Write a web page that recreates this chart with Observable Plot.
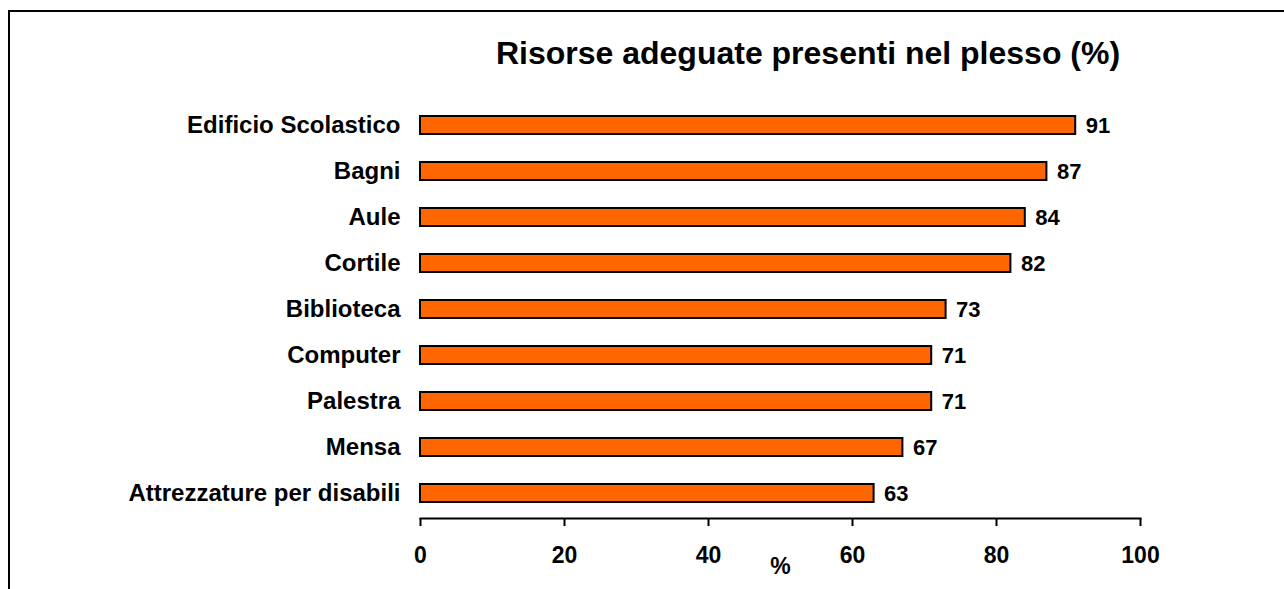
<!DOCTYPE html>
<html>
<head>
<meta charset="utf-8">
<script src="https://cdn.jsdelivr.net/npm/d3@7"></script>
<script src="https://cdn.jsdelivr.net/npm/@observablehq/plot@0.6"></script>
<style>
  html, body { margin: 0; padding: 0; background: white; }
  #wrap { position: relative; width: 1284px; height: 589px; overflow: hidden; background: white; }
  #border { position: absolute; left: 8px; top: 10px; width: 2000px; height: 2000px;
            border-left: 2.5px solid black; border-top: 2.5px solid black; box-sizing: border-box; pointer-events: none; }
  #title { position: absolute; left: 408px; width: 800px; top: 37px; text-align: center;
           font-family: "Liberation Sans", Arial, sans-serif; font-weight: bold; font-size: 32px; line-height: 32px; color: black; }
  #chart { position: absolute; left: 0; top: 80px; }
</style>
</head>
<body>
<div id="wrap">
  <div id="border"></div>
  <div id="title">Risorse adeguate presenti nel plesso (%)</div>
  <div id="chart"></div>
</div>
<script>
const categories = ["Edificio Scolastico", "Bagni", "Aule", "Cortile", "Biblioteca", "Computer", "Palestra", "Mensa", "Attrezzature per disabili"];
const values = [91, 87, 84, 82, 73, 71, 71, 67, 63];
const xTicks = [0, 20, 40, 60, 80, 100];

const data = categories.map((c, i) => ({category: c, value: values[i]}));

const chart = Plot.plot({
  width: 1284,
  height: 509,
  marginLeft: 420,
  marginRight: 144,
  marginTop: 20,
  marginBottom: 71,
  style: {fontFamily: "'Liberation Sans', Arial, sans-serif", fontWeight: "bold", color: "black", fontSize: "23px", background: "transparent", overflow: "visible"},
  x: {domain: [0, 100]},
  y: {domain: categories, paddingInner: 0.6, paddingOuter: 0.3},
  marks: [
    Plot.barX(data, {x: "value", y: "category", fill: "#FF6600", stroke: "black", strokeWidth: 2}),
    Plot.text(data, {x: "value", y: "category", text: d => String(d.value), textAnchor: "start", dx: 10, fontSize: 22, fontWeight: "bold", fill: "black"}),
    Plot.axisY({tickSize: 0, tickPadding: 20, fontSize: 24, fontWeight: "bold", label: null}),
    Plot.axisX({ticks: xTicks, tickSize: 8, tickPadding: 20, strokeWidth: 2, fontSize: 23, fontWeight: "bold",
                label: "%", labelAnchor: "center", labelArrow: "none", labelOffset: 55}),
    Plot.frame({anchor: "bottom", strokeWidth: 2})
  ]
});
document.getElementById("chart").appendChild(chart);
</script>
</body>
</html>
